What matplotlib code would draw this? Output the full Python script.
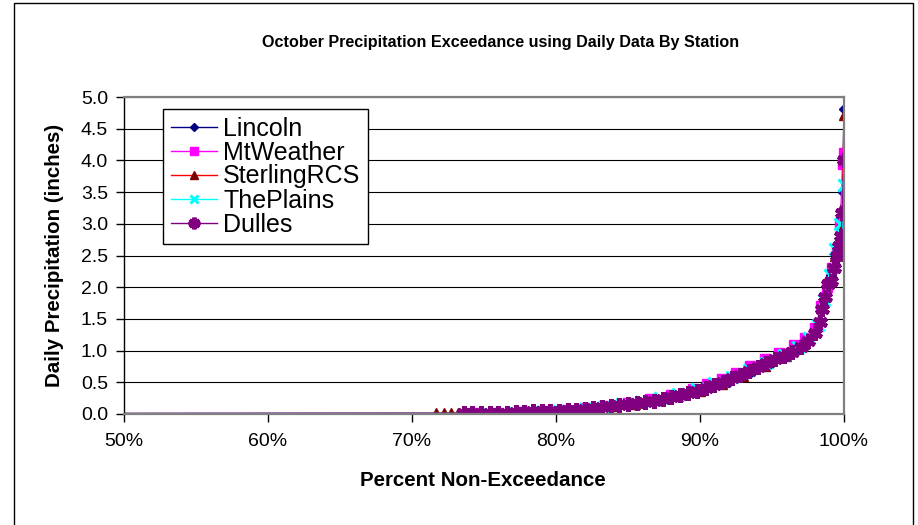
import matplotlib
matplotlib.use('Agg')
import matplotlib.pyplot as plt
import matplotlib.patches as patches
from matplotlib.ticker import FixedLocator, FuncFormatter

plt.rcParams['font.family'] = ['Liberation Sans', 'DejaVu Sans']

# percent non-exceedance (%) and daily precipitation (inches) per station
lincoln_pct = [0, 74.0, 76.0, 78.0, 80.0, 82.0, 84.0, 86.0, 88.0, 90.0, 92.0, 93.5,
               95.0, 96.5, 97.5, 98.2, 98.7, 99.1, 99.5, 99.8, 99.9, 100]
lincoln_prcp = [0, 0.01, 0.02, 0.03, 0.05, 0.08, 0.12, 0.18, 0.26, 0.36, 0.50, 0.64,
                0.80, 0.98, 1.15, 1.40, 1.80, 2.20, 2.60, 3.09, 3.50, 4.81]

mtweather_pct = [0, 74.5, 76.0, 77.5, 79.0, 80.5, 82.0, 83.5, 85.0, 86.5, 88.0, 89.5,
                 90.5, 91.5, 92.5, 93.5, 94.5, 95.5, 96.5, 97.3, 98.0, 98.4, 98.8,
                 99.2, 99.5, 99.75, 99.9, 100]
mtweather_prcp = [0, 0.01, 0.02, 0.03, 0.04, 0.06, 0.09, 0.12, 0.17, 0.23, 0.30, 0.39,
                  0.47, 0.55, 0.65, 0.75, 0.86, 0.97, 1.09, 1.20, 1.35, 1.70, 2.00,
                  2.30, 2.60, 3.00, 3.95, 4.12]

sterling_pct = [0, 71.7, 72.2, 72.7, 73.2, 74.9, 77.3, 78.4, 80.8, 82.5, 84.0, 85.5,
                87.0, 88.5, 90.0, 91.5, 93.0, 94.5, 96.0, 97.2, 98.0, 98.5, 99.0,
                99.4, 99.7, 99.9, 100]
sterling_prcp = [0, 0.01, 0.01, 0.01, 0.01, 0.02, 0.03, 0.04, 0.06, 0.09, 0.12, 0.16,
                 0.22, 0.29, 0.37, 0.47, 0.60, 0.75, 0.92, 1.10, 1.30, 1.70, 2.10,
                 2.50, 3.00, 3.30, 4.72]

plains_pct = [0, 75.2, 77.1, 78.3, 79.5, 80.7, 82.0, 83.3, 84.6, 85.9, 87.2, 88.5,
              89.8, 91.0, 92.2, 93.4, 94.6, 95.8, 96.8, 97.6, 98.2, 98.6, 99.0,
              99.4, 99.7, 100]
plains_prcp = [0, 0.01, 0.02, 0.03, 0.04, 0.05, 0.08, 0.11, 0.15, 0.19, 0.25, 0.32,
               0.40, 0.49, 0.58, 0.69, 0.80, 0.93, 1.06, 1.20, 1.40, 1.80, 2.20,
               2.60, 3.00, 3.61]

dulles_pct = [0, 73.6, 74.2, 74.8, 75.4, 76.0, 76.6, 77.2, 77.8, 78.4, 79.0, 79.6,
              80.2, 80.8, 81.4, 82.0, 82.6, 83.2, 83.8, 84.4, 85.0, 85.6, 86.2,
              86.8, 87.4, 88.0, 88.6, 89.2, 89.8, 90.4, 91.0, 91.6, 92.2, 92.8,
              93.4, 94.0, 94.6, 95.2, 95.8, 96.4, 97.0, 97.5, 98.0, 98.3, 98.5,
              98.7, 98.9, 99.1, 99.3, 99.5, 99.65, 99.8, 99.87, 100]
dulles_prcp = [0, 0.01, 0.01, 0.01, 0.02, 0.02, 0.02, 0.03, 0.03, 0.04, 0.04, 0.05,
               0.05, 0.06, 0.07, 0.08, 0.09, 0.11, 0.12, 0.14, 0.15, 0.17, 0.19,
               0.21, 0.24, 0.27, 0.30, 0.33, 0.37, 0.41, 0.46, 0.51, 0.56, 0.62,
               0.68, 0.74, 0.80, 0.86, 0.91, 0.98, 1.06, 1.15, 1.28, 1.45, 1.65,
               1.85, 2.05, 2.10, 2.30, 2.50, 2.65, 2.80, 3.17, 4.00]

x_ticks = [50, 60, 70, 80, 90, 100]
y_ticks = [0.0, 0.5, 1.0, 1.5, 2.0, 2.5, 3.0, 3.5, 4.0, 4.5, 5.0]

W, H = 918, 525
fig = plt.figure(figsize=(W / 100, H / 100), dpi=100)
ax = fig.add_axes([124 / W, 1 - 414 / H, (844 - 124) / W, (414 - 97) / H])

# station series: (name, x, y, line colour, marker, marker colour, size, edge width)
series = [
    ('Lincoln', lincoln_pct, lincoln_prcp, '#000080', 'D', '#000080', 5, 1),
    ('MtWeather', mtweather_pct, mtweather_prcp, '#FF00FF', 's', '#FF00FF', 7, 1),
    ('SterlingRCS', sterling_pct, sterling_prcp, '#FF0000', '^', '#800000', 7, 1),
    ('ThePlains', plains_pct, plains_prcp, '#00FFFF', 'x', '#00FFFF', 8, 2.2),
    ('Dulles', dulles_pct, dulles_prcp, '#800080', (6, 2, 0), '#800080', 10.5, 3.2),
]
for name, xs, ys, lc, mk, mc, ms, mew in series:
    ax.plot(xs, ys, color=lc, lw=1, marker=mk, markersize=ms,
            markerfacecolor=mc, markeredgecolor=mc, markeredgewidth=mew,
            label=name, clip_on=True)

ax.set_xlim(50, 100)
ax.set_ylim(0, 5)
ax.xaxis.set_major_locator(FixedLocator(x_ticks))
ax.xaxis.set_major_formatter(FuncFormatter(lambda v, p: f'{v:.0f}%'))
ax.yaxis.set_major_locator(FixedLocator(y_ticks))
ax.yaxis.set_major_formatter(FuncFormatter(lambda v, p: f'{v:.1f}'))
ax.tick_params(axis='both', direction='out', length=5.5, width=1, labelsize=14)
ax.tick_params(axis='x', pad=8)
ax.tick_params(axis='y', pad=6)

ax.yaxis.grid(True, color='black', lw=0.8)
ax.set_axisbelow(True)
for side in ['top', 'right', 'bottom']:
    ax.spines[side].set_color('#808080')
    ax.spines[side].set_linewidth(1.6)
ax.spines['left'].set_color('black')
ax.spines['left'].set_linewidth(1)

fig.text(501 / W, 1 - 42 / H, 'October Precipitation Exceedance using Daily Data By Station',
         ha='center', va='center', fontsize=11.6, fontweight='bold')
fig.text(483 / W, 1 - 481 / H, 'Percent Non-Exceedance',
         ha='center', va='center', fontsize=14.8, fontweight='bold')
fig.text(55 / W, 1 - 255 / H, 'Daily Precipitation (inches)',
         ha='center', va='center', rotation=90, fontsize=14.8, fontweight='bold')

# legend markers a bit smaller than in the plot
leg = ax.legend(loc='upper left', bbox_to_anchor=(163 / W, 1 - 109 / H),
                bbox_transform=fig.transFigure, borderaxespad=0, fontsize=18,
                frameon=True, fancybox=False, edgecolor='black', framealpha=1,
                handlelength=1.85, handletextpad=0.25, labelspacing=0.0,
                borderpad=0.3, markerscale=0.8)
leg.get_frame().set_linewidth(1)

# outer chart border
fig.patches.append(patches.Rectangle((14 / W, -0.01), (913 - 14) / W, 1.01 - 3 / H,
                                     transform=fig.transFigure, fill=False,
                                     edgecolor='black', lw=1))

fig.savefig('out.png', dpi=100)
